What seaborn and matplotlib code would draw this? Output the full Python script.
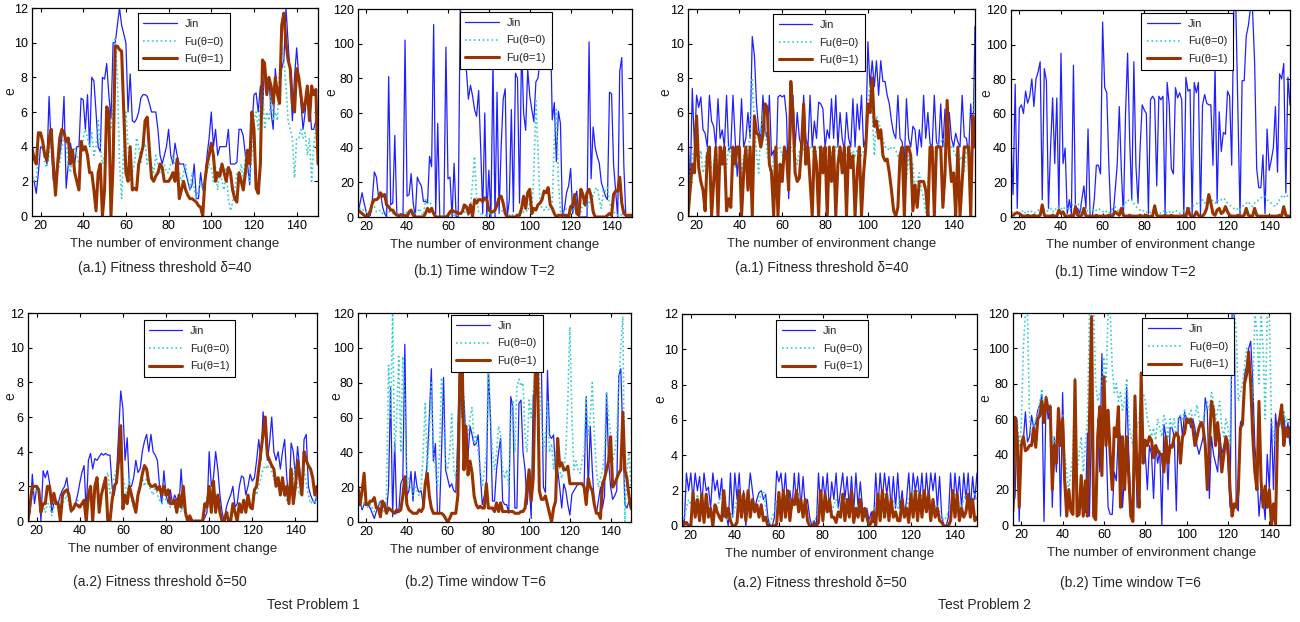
import matplotlib as mpl
import matplotlib.pyplot as plt
import seaborn as sns

sns.set_style("ticks")
mpl.rcParams['font.family'] = ['Liberation Sans', 'DejaVu Sans']
mpl.rcParams['axes.edgecolor'] = 'black'
mpl.rcParams['axes.linewidth'] = 0.9
mpl.rcParams['xtick.color'] = 'black'
mpl.rcParams['ytick.color'] = 'black'

# DATA
env_change = list(range(16, 151))

# Test problem 1, (a.1) fitness threshold 40
tp1_a1_jin = [2.0, 2.0, 1.3, 2.5, 4.0, 3.9, 3.5, 3.0, 6.9, 4.0,
              2.0, 2.1, 2.8, 3.5, 4.5, 6.9, 1.6, 3.0, 4.2, 3.5,
              3.0, 4.0, 4.0, 6.8, 6.7, 5.0, 7.0, 4.0, 8.0, 7.8,
              6.0, 4.0, 3.7, 8.0, 7.9, 8.8, 7.0, 5.6, 10.0, 10.0,
              11.0, 12.0, 11.0, 10.5, 10.0, 6.0, 8.2, 5.5, 5.4, 5.6,
              6.0, 6.8, 7.0, 7.0, 6.9, 6.5, 6.0, 6.0, 6.0, 5.0,
              3.5, 3.0, 3.5, 4.0, 5.0, 3.5, 3.0, 4.2, 3.5, 3.0,
              3.0, 3.0, 2.5, 2.0, 1.5, 1.8, 3.0, 1.0, 1.0, 2.5,
              1.5, 2.0, 3.5, 4.5, 6.0, 4.0, 5.0, 3.5, 4.0, 4.0,
              4.0, 4.0, 5.0, 3.0, 3.0, 3.0, 3.1, 5.0, 5.0, 4.6,
              3.5, 3.0, 1.8, 5.0, 7.0, 7.1, 6.0, 7.5, 5.8, 8.9,
              7.0, 8.0, 6.0, 5.0, 8.5, 7.0, 7.5, 8.5, 9.0, 12.0,
              10.0, 8.0, 5.5, 8.0, 9.7, 8.0, 6.5, 5.0, 6.0, 7.5,
              6.5, 5.0, 5.0, 5.5, 6.0]
tp1_a1_fu0 = [2.5, 2.0, 2.2, 3.5, 4.0, 4.2, 3.0, 2.8, 3.5, 4.5,
              3.0, 2.2, 2.5, 3.0, 4.0, 4.5, 4.2, 3.0, 2.5, 3.5,
              4.0, 3.5, 3.0, 3.5, 4.5, 5.0, 4.5, 4.0, 4.8, 3.5,
              4.0, 5.5, 4.0, 3.0, 3.5, 5.5, 6.0, 5.0, 6.0, 10.2,
              8.0, 3.0, 1.0, 4.0, 6.0, 4.0, 2.0, 2.5, 3.0, 4.5,
              4.0, 3.0, 4.0, 4.2, 3.0, 3.5, 3.0, 2.5, 3.5, 3.0,
              2.5, 3.0, 3.0, 2.5, 2.5, 3.0, 3.5, 3.0, 2.5, 2.5,
              2.0, 2.5, 3.0, 2.0, 1.5, 2.5, 1.5, 1.0, 1.5, 2.0,
              1.5, 2.0, 2.5, 3.0, 2.8, 2.0, 2.8, 1.5, 2.8, 2.0,
              1.5, 2.8, 1.0, 0.3, 0.8, 1.5, 2.5, 2.0, 3.0, 2.0,
              3.5, 2.5, 2.0, 3.5, 5.5, 6.0, 5.0, 6.5, 7.5, 5.0,
              6.0, 5.5, 7.0, 5.5, 6.0, 5.5, 8.5, 9.8, 9.0, 7.5,
              5.5, 5.0, 4.5, 2.2, 4.5, 4.5, 5.0, 4.5, 4.8, 3.5,
              4.5, 2.0, 4.0, 5.0, 4.5]
tp1_a1_fu1 = [3.9, 3.3, 3.0, 4.8, 4.8, 4.3, 3.5, 3.2, 4.5, 5.0,
              3.0, 1.2, 3.0, 4.5, 5.0, 4.8, 4.3, 4.5, 3.0, 3.8,
              2.5, 2.0, 1.5, 4.3, 3.8, 4.0, 3.5, 2.5, 2.5, 1.5,
              0.3, 2.5, 3.0, 0.0, 1.5, 6.3, 6.0, 0.0, 3.0, 9.8,
              9.8, 9.6, 9.5, 6.0, 2.5, 2.0, 4.0, 1.5, 1.6, 1.5,
              3.0, 3.5, 4.0, 5.5, 5.7, 3.8, 2.2, 2.0, 2.3, 2.5,
              3.0, 2.8, 2.0, 2.0, 2.0, 2.2, 2.5, 2.0, 3.3, 1.0,
              1.5, 2.0, 1.5, 1.2, 1.0, 1.0, 0.9, 0.8, 0.6, 0.5,
              0.0, 2.0, 3.0, 3.5, 4.2, 3.5, 2.0, 2.5, 2.3, 3.0,
              2.5, 2.0, 2.8, 2.5, 1.5, 1.0, 0.8, 2.5, 2.0, 1.5,
              2.5, 3.8, 3.0, 6.0, 5.0, 1.6, 1.3, 3.0, 9.0, 8.8,
              7.0, 8.0, 7.5, 6.5, 8.0, 7.0, 6.5, 11.0, 11.7, 10.0,
              9.0, 8.5, 6.5, 6.0, 8.5, 8.0, 7.0, 6.0, 6.5, 7.5,
              5.5, 7.5, 7.0, 7.3, 3.0]

# Test problem 1, (b.1) time window 2
tp1_b1_jin = [2, 8, 14, 8, 3, 0, 1, 10, 26, 23,
              12, 14, 6, 2, 0, 81, 7, 8, 47, 1,
              0, 2, 0, 102, 12, 13, 25, 8, 0, 23,
              20, 18, 9, 9, 8, 35, 29, 111, 2, 54,
              0, 0, 0, 98, 22, 23, 0, 31, 0, 0,
              121, 110, 100, 85, 68, 76, 70, 62, 58, 73,
              40, 2, 60, 0, 27, 0, 90, 0, 72, 2,
              40, 68, 74, 0, 10, 62, 3, 83, 80, 8,
              100, 60, 50, 85, 70, 62, 55, 78, 80, 90,
              95, 105, 118, 100, 118, 56, 66, 32, 61, 54,
              0, 5, 14, 18, 28, 2, 10, 15, 0, 0,
              0, 0, 0, 101, 22, 52, 40, 35, 31, 20,
              16, 12, 10, 72, 71, 30, 15, 0, 84, 92,
              30, 0, 0, 0, 0]
tp1_b1_fu0 = [2, 5, 5, 3, 3, 2, 5, 6, 6, 3,
              3, 4, 2, 3, 2, 3, 3, 2, 3, 2,
              1, 2, 1, 2, 3, 2, 3, 1, 2, 3,
              5, 2, 1, 10, 8, 9, 6, 2, 1, 1,
              0, 1, 1, 0, 1, 2, 1, 1, 2, 1,
              1, 2, 3, 2, 1, 5, 20, 35, 10, 3,
              2, 1, 1, 1, 2, 1, 3, 3, 2, 3,
              4, 3, 2, 1, 1, 2, 1, 1, 2, 3,
              2, 3, 4, 3, 8, 5, 25, 67, 40, 8,
              5, 4, 6, 4, 5, 8, 45, 62, 20, 3,
              2, 3, 5, 4, 5, 3, 6, 4, 2, 3,
              8, 7, 5, 8, 14, 12, 16, 17, 10, 5,
              16, 15, 17, 8, 5, 3, 2, 1, 2, 1,
              2, 1, 0, 1, 1]
tp1_b1_fu1 = [4, 3, 2, 1, 0, 1, 3, 8, 10, 10,
              11, 14, 12, 13, 7, 6, 4, 4, 2, 1,
              1, 1, 1, 1, 0, 3, 4, 1, 0, 0,
              0, 0, 0, 2, 5, 3, 5, 2, 0, 0,
              0, 0, 0, 0, 1, 3, 4, 3, 3, 2,
              2, 3, 7, 6, 2, 7, 0, 10, 8, 10,
              10, 9, 11, 10, 4, 3, 3, 4, 7, 11,
              12, 8, 2, 0, 0, 0, 0, 0, 1, 1,
              5, 12, 5, 14, 16, 2, 5, 4, 7, 8,
              10, 15, 14, 17, 7, 5, 2, 0, 1, 1,
              1, 1, 1, 0, 6, 7, 13, 2, 1, 16,
              13, 7, 14, 16, 12, 3, 0, 0, 0, 0,
              0, 0, 1, 2, 1, 13, 15, 15, 23, 8,
              2, 1, 1, 1, 1]

# Test problem 2, (a.1) fitness threshold 40
tp2_a1_jin = [4.8, 1.5, 7.4, 4.0, 7.0, 6.3, 6.9, 5.0, 4.8, 4.0,
              7.0, 5.5, 5.2, 4.0, 6.8, 4.5, 5.0, 4.0, 7.0, 3.8,
              4.0, 7.0, 4.5, 2.3, 4.0, 6.8, 4.0, 4.5, 6.0, 4.5,
              10.4, 9.3, 6.5, 5.0, 4.5, 7.0, 5.0, 4.5, 7.0, 3.5,
              3.8, 2.0, 6.9, 7.0, 6.9, 7.0, 5.8, 1.0, 5.0, 7.0,
              4.0, 6.0, 4.5, 4.0, 7.0, 4.5, 4.0, 7.0, 4.0, 5.5,
              4.5, 6.6, 6.5, 6.2, 4.0, 5.0, 4.5, 6.8, 4.5, 7.0,
              4.0, 6.0, 4.5, 3.8, 6.0, 4.5, 4.0, 6.8, 4.0, 6.5,
              5.0, 7.0, 4.0, 4.5, 10.1, 7.5, 9.0, 7.5, 9.0, 7.0,
              9.0, 7.8, 7.8, 7.0, 6.5, 5.5, 4.8, 4.5, 7.0, 4.5,
              4.3, 3.0, 6.8, 4.5, 4.0, 5.2, 5.0, 3.5, 5.0, 4.0,
              7.0, 4.5, 6.0, 4.2, 4.0, 7.0, 4.3, 4.0, 6.5, 4.0,
              6.2, 4.2, 6.0, 4.5, 4.0, 4.8, 4.3, 4.0, 7.0, 4.6,
              4.5, 3.5, 6.5, 4.0, 11.0]
tp2_a1_fu0 = [1.0, 2.5, 3.5, 3.8, 3.5, 3.0, 3.8, 2.5, 3.0, 4.0,
              3.5, 2.8, 3.0, 4.0, 3.2, 2.5, 3.8, 3.0, 2.8, 4.0,
              3.5, 3.0, 2.8, 3.8, 3.0, 2.5, 3.5, 3.0, 4.0, 4.5,
              8.0, 5.5, 3.5, 2.5, 5.0, 6.0, 5.0, 3.5, 3.0, 2.0,
              3.5, 3.0, 4.0, 4.0, 3.5, 3.8, 3.5, 1.5, 4.0, 3.8,
              3.5, 3.0, 3.8, 3.5, 4.0, 3.8, 3.5, 4.0, 3.8, 3.5,
              3.8, 4.0, 3.7, 3.5, 3.8, 3.2, 3.5, 3.8, 3.5, 4.0,
              3.8, 3.5, 3.6, 3.8, 3.5, 3.8, 3.5, 3.8, 3.5, 3.8,
              4.0, 3.5, 3.8, 4.0, 6.5, 7.5, 6.0, 3.5, 5.8, 5.5,
              5.0, 4.5, 4.0, 4.0, 3.8, 4.0, 4.0, 3.8, 3.5, 3.0,
              3.8, 2.5, 2.0, 3.5, 2.5, 3.0, 1.5, 2.0, 2.5, 1.5,
              1.0, 0.2, 2.0, 3.0, 3.5, 3.8, 4.0, 4.2, 4.3, 4.5,
              4.0, 4.5, 4.2, 4.0, 3.8, 3.5, 4.0, 3.2, 3.5, 2.5,
              3.8, 4.0, 3.5, 4.0, 7.8]
tp2_a1_fu1 = [0.0, 1.5, 3.0, 2.5, 5.8, 2.8, 2.0, 1.5, 0.3, 3.5,
              4.0, 0.0, 2.0, 4.0, 0.0, 4.0, 3.0, 4.0, 0.3, 1.0,
              0.5, 4.0, 3.0, 4.0, 4.0, 0.0, 2.5, 4.0, 1.5, 4.0,
              0.0, 5.8, 4.8, 4.7, 4.0, 4.7, 6.5, 6.3, 3.0, 2.5,
              0.0, 4.0, 0.0, 3.0, 2.0, 4.0, 3.5, 1.5, 7.8, 6.0,
              2.5, 2.0, 2.2, 4.0, 6.5, 3.0, 4.0, 2.0, 0.0, 4.0,
              3.0, 0.0, 4.0, 2.5, 4.0, 0.0, 4.0, 2.0, 4.0, 0.0,
              3.0, 4.0, 2.5, 4.0, 0.0, 4.0, 2.8, 3.5, 0.0, 2.5,
              4.0, 0.0, 2.5, 4.0, 6.5, 6.0, 8.0, 5.2, 5.5, 4.5,
              5.0, 3.5, 3.2, 3.3, 2.5, 1.5, 0.3, 0.0, 0.5, 3.5,
              4.0, 0.0, 4.0, 4.0, 3.5, 0.3, 1.8, 0.5, 2.0, 2.0,
              2.0, 1.5, 0.0, 4.0, 4.0, 0.0, 4.0, 4.0, 4.0, 0.5,
              2.5, 6.7, 3.5, 2.0, 2.5, 0.0, 4.0, 0.0, 2.0, 4.0,
              4.0, 4.0, 0.0, 5.8, 4.0]

# Test problem 2, (b.1) time window 2
tp2_b1_jin = [45, 13, 77, 5, 63, 65, 60, 73, 66, 70,
              80, 64, 80, 84, 90, 10, 86, 79, 5, 40,
              69, 31, 69, 5, 95, 31, 40, 2, 10, 2,
              88, 2, 5, 2, 10, 18, 5, 51, 0, 0,
              10, 30, 30, 25, 113, 75, 72, 30, 0, 0,
              15, 30, 64, 27, 0, 60, 95, 45, 10, 90,
              30, 8, 40, 65, 62, 60, 2, 68, 70, 68,
              18, 70, 68, 70, 2, 78, 65, 28, 25, 75,
              69, 72, 68, 0, 81, 73, 74, 0, 78, 72,
              78, 1, 65, 71, 66, 65, 65, 30, 87, 8,
              61, 38, 49, 48, 73, 70, 30, 121, 121, 60,
              0, 79, 79, 105, 111, 121, 120, 90, 28, 17,
              17, 36, 2, 51, 27, 33, 40, 64, 26, 83,
              80, 89, 14, 81, 65]
tp2_b1_fu0 = [3, 3, 2, 3, 2, 3, 4, 2, 3, 4,
              3, 2, 3, 4, 3, 5, 4, 3, 4, 5,
              3, 5, 4, 6, 5, 4, 6, 5, 4, 6,
              8, 7, 8, 6, 5, 4, 5, 3, 4, 5,
              3, 4, 5, 4, 3, 4, 3, 2, 4, 5,
              6, 4, 3, 5, 6, 8, 10, 9, 10, 8,
              6, 5, 4, 3, 4, 3, 2, 3, 4, 3,
              2, 3, 2, 3, 4, 2, 3, 2, 3, 4,
              3, 2, 3, 4, 5, 6, 5, 6, 7, 8,
              7, 9, 10, 8, 10, 12, 11, 9, 8, 10,
              9, 10, 11, 10, 8, 7, 6, 5, 4, 5,
              4, 6, 7, 8, 9, 7, 6, 8, 9, 10,
              11, 12, 12, 10, 9, 8, 7, 6, 8, 10,
              12, 11, 13, 12, 11]
tp2_b1_fu1 = [1, 1, 2, 2.5, 2, 1, 0.5, 0.5, 1, 0.5,
              0.5, 1, 0.5, 0.5, 1, 7, 1, 0.5, 0.5, 0.5,
              1, 0.5, 0.5, 4, 2, 3, 0.5, 0.5, 0.5, 1,
              0.5, 6, 1, 0.5, 1, 5, 0.5, 0.5, 0.5, 0.5,
              0.5, 1, 0.5, 0.5, 0.5, 0.5, 0.5, 1, 0.5, 1,
              3, 2, 1, 5, 1, 0.5, 0.5, 1, 0.5, 0.5,
              0.5, 0.5, 1, 0.5, 0.5, 1, 0.5, 0.5, 0.5, 6.5,
              1, 0.5, 0.5, 0.5, 1, 0.5, 0.5, 1, 0.5, 0.5,
              0.5, 0.5, 0.5, 1, 0.5, 5, 1, 0.5, 0.5, 3,
              1, 0.5, 0.5, 2, 5, 13, 8, 2, 1, 4,
              5, 2, 3, 6, 3, 1, 0.5, 0.5, 0.5, 1,
              0.5, 0.5, 1, 5, 1, 0.5, 0.5, 5, 1, 0.5,
              0.5, 0.5, 0.5, 0.5, 0.5, 0.5, 0.5, 0.5, 0.5, 1,
              0.5, 6, 1, 0.5, 0.5]

# Test problem 1, (a.2) fitness threshold 50
tp1_a2_jin = [0.3, 0.5, 2.7, 1.0, 1.9, 1.8, 0.0, 2.9, 2.5, 2.9,
              2.2, 0.5, 1.0, 1.2, 1.0, 1.5, 1.8, 2.0, 2.5, 1.5,
              0.5, 0.8, 1.0, 1.5, 2.2, 2.8, 3.2, 0.5, 3.5, 3.9,
              3.0, 3.6, 3.5, 3.7, 3.9, 3.8, 3.9, 3.8, 3.8, 2.0,
              1.5, 2.5, 5.0, 7.5, 6.5, 3.5, 4.8, 2.0, 2.0, 2.5,
              3.5, 2.8, 3.0, 4.0, 4.6, 5.0, 4.0, 5.0, 4.0, 3.8,
              3.5, 2.0, 1.0, 2.9, 1.5, 1.0, 1.8, 1.0, 1.5, 1.2,
              0.8, 3.0, 1.0, 0.5, 0.0, 0.0, 0.0, 0.0, 0.0, 0.0,
              0.0, 0.0, 0.2, 0.5, 4.0, 2.0, 2.5, 4.0, 3.0, 1.5,
              0.5, 0.0, 0.8, 1.2, 1.5, 2.0, 0.8, 1.0, 2.0, 2.6,
              2.5, 1.5, 2.0, 2.7, 2.3, 2.5, 3.5, 4.7, 3.5, 6.3,
              5.0, 3.5, 4.5, 6.0, 4.0, 3.5, 4.0, 3.0, 4.0, 4.7,
              2.5, 1.0, 4.5, 4.0, 2.5, 4.3, 3.0, 1.5, 4.7, 5.0,
              2.0, 1.5, 1.2, 1.0, 1.5]
tp1_a2_fu0 = [0.5, 1.0, 1.5, 2.0, 1.8, 1.5, 0.8, 1.0, 0.5, 1.0,
              1.0, 0.3, 0.8, 1.2, 1.0, 0.8, 1.0, 1.2, 1.5, 1.0,
              0.5, 0.8, 1.0, 1.2, 0.8, 1.0, 1.2, 0.5, 1.0, 1.8,
              0.5, 1.5, 2.0, 1.2, 1.5, 2.0, 2.5, 2.8, 1.5, 2.0,
              2.5, 3.0, 3.5, 3.3, 2.5, 2.0, 1.5, 2.5, 1.2, 0.8,
              1.0, 1.8, 2.0, 2.5, 2.0, 2.5, 2.0, 1.8, 1.5, 2.0,
              1.5, 1.2, 1.0, 1.5, 1.2, 1.0, 0.8, 1.0, 0.8, 0.5,
              1.0, 0.5, 1.0, 0.3, 0.0, 0.2, 0.0, 0.0, 0.0, 0.0,
              0.0, 0.0, 0.5, 1.5, 1.8, 1.0, 1.5, 0.8, 1.0, 0.5,
              0.2, 0.0, 0.3, 0.5, 0.3, 0.8, 0.5, 0.2, 0.8, 0.5,
              1.0, 0.8, 1.2, 1.0, 1.2, 1.8, 1.5, 2.0, 2.5, 3.0,
              3.2, 3.0, 3.5, 2.8, 2.5, 2.0, 2.5, 1.8, 2.2, 1.5,
              1.2, 2.0, 1.5, 2.5, 3.2, 2.0, 1.5, 2.0, 3.0, 2.2,
              1.5, 1.0, 1.2, 1.0, 1.5]
tp1_a2_fu1 = [0.0, 1.0, 2.0, 2.0, 2.0, 1.8, 0.5, 1.0, 1.0, 2.0,
              2.0, 1.0, 1.6, 1.0, 1.0, 0.0, 1.5, 1.7, 1.8, 1.5,
              0.6, 0.7, 1.0, 0.9, 0.8, 1.0, 1.2, 0.0, 1.5, 2.0,
              0.0, 2.0, 2.5, 0.5, 1.5, 2.0, 2.5, 0.0, 0.0, 1.2,
              2.0, 2.2, 3.5, 5.5, 0.7, 1.5, 1.0, 2.0, 1.5, 1.0,
              0.5, 1.5, 2.0, 2.7, 3.2, 3.0, 2.2, 2.0, 2.0, 2.1,
              1.8, 2.0, 1.5, 2.0, 1.5, 1.8, 1.0, 1.0, 1.2, 0.5,
              1.5, 0.8, 2.0, 0.5, 0.0, 0.3, 0.0, 0.0, 0.0, 0.0,
              0.0, 0.0, 1.0, 0.8, 2.0, 0.5, 2.3, 0.5, 1.5, 0.5,
              0.0, 0.0, 0.5, 0.0, 0.0, 1.0, 0.5, 0.0, 1.0, 0.5,
              1.2, 0.5, 1.5, 0.8, 0.7, 1.8, 2.0, 3.0, 4.0, 5.0,
              6.0, 3.8, 3.5, 3.2, 3.0, 2.0, 2.5, 1.5, 2.5, 1.5,
              2.0, 1.0, 3.0, 1.0, 2.0, 3.5, 2.5, 1.5, 4.0, 3.5,
              3.2, 3.0, 2.5, 1.5, 2.0]

# Test problem 1, (b.2) time window 6
tp1_b2_jin = [8, 12, 7, 10, 11, 10, 8, 5, 2, 6,
              9, 12, 10, 8, 5, 20, 77, 3, 46, 5,
              6, 22, 25, 102, 15, 18, 29, 12, 29, 20,
              17, 18, 10, 22, 35, 60, 88, 35, 45, 5,
              5, 40, 83, 30, 25, 20, 22, 18, 17, 50,
              95, 60, 70, 48, 38, 55, 50, 44, 45, 50,
              28, 10, 15, 20, 88, 60, 12, 12, 30, 40,
              48, 12, 10, 10, 5, 72, 66, 8, 8, 68,
              70, 40, 30, 10, 25, 2, 72, 75, 90, 102,
              90, 20, 17, 87, 50, 48, 50, 28, 30, 20,
              8, 22, 18, 10, 4, 16, 18, 20, 22, 22,
              22, 21, 72, 18, 55, 30, 10, 5, 12, 20,
              8, 15, 74, 35, 20, 13, 15, 18, 84, 88,
              50, 10, 8, 12, 7]
tp1_b2_fu0 = [15, 10, 8, 12, 10, 8, 10, 8, 6, 8,
              10, 12, 8, 5, 15, 90, 60, 120, 40, 60,
              95, 40, 95, 70, 20, 25, 20, 15, 20, 18,
              15, 20, 40, 68, 30, 50, 80, 40, 30, 20,
              40, 83, 60, 35, 30, 40, 62, 30, 25, 40,
              80, 60, 72, 45, 50, 60, 66, 45, 50, 40,
              30, 20, 30, 40, 90, 60, 40, 30, 40, 55,
              50, 30, 25, 30, 20, 60, 70, 40, 78, 82,
              78, 80, 50, 40, 70, 60, 75, 85, 100, 80,
              60, 40, 50, 70, 40, 45, 30, 40, 35, 30,
              25, 30, 40, 70, 112, 60, 30, 35, 30, 28,
              35, 40, 72, 50, 60, 80, 50, 30, 20, 25,
              30, 40, 75, 60, 50, 35, 40, 50, 80, 100,
              118, 0, 30, 40, 20]
tp1_b2_fu1 = [20, 10, 18, 28, 10, 10, 12, 12, 14, 8,
              8, 3, 12, 10, 5, 8, 7, 6, 5, 7,
              6, 7, 15, 26, 10, 7, 6, 5, 5, 5,
              7, 6, 8, 22, 28, 15, 8, 5, 5, 5,
              5, 5, 4, 2, 0, 2, 5, 5, 5, 15,
              85, 105, 30, 55, 27, 35, 28, 15, 10, 8,
              9, 8, 8, 22, 8, 8, 8, 6, 11, 6,
              11, 6, 6, 6, 6, 6, 6, 5, 5, 5,
              6, 6, 8, 20, 30, 12, 25, 85, 100, 18,
              13, 13, 15, 10, 5, 0, 8, 12, 48, 32,
              34, 30, 30, 32, 22, 22, 22, 22, 22, 22,
              22, 20, 10, 25, 20, 18, 10, 5, 5, 2,
              22, 25, 30, 35, 49, 20, 22, 25, 28, 30,
              63, 30, 25, 15, 8]

# Test problem 2, (a.2) fitness threshold 50
tp2_a2_jin = [0.5, 0.0, 3.0, 2.0, 3.0, 1.5, 3.0, 2.0, 2.8, 1.2,
              3.0, 2.0, 2.2, 1.0, 3.0, 2.0, 2.6, 1.5, 2.7, 0.5,
              0.8, 0.0, 3.0, 0.5, 3.0, 1.5, 3.0, 0.8, 2.0, 0.0,
              1.5, 3.0, 2.0, 1.0, 1.5, 1.9, 2.0, 1.5, 1.8, 0.5,
              0.0, 0.0, 0.5, 3.1, 2.5, 3.0, 1.5, 3.0, 1.0, 2.0,
              1.0, 3.0, 1.2, 3.0, 1.0, 2.8, 1.0, 1.5, 0.5, 0.0,
              0.3, 0.0, 3.0, 1.0, 2.8, 1.5, 3.0, 0.8, 2.5, 1.5,
              3.0, 1.0, 2.0, 3.0, 1.5, 2.8, 1.0, 2.8, 0.8, 3.0,
              1.0, 2.5, 1.0, 0.5, 1.0, 0.3, 0.8, 0.2, 3.0, 1.0,
              3.0, 1.5, 3.0, 1.8, 2.8, 1.0, 2.8, 1.0, 3.0, 1.0,
              2.0, 0.5, 1.5, 3.0, 1.0, 3.0, 2.0, 2.8, 1.5, 3.0,
              1.0, 3.0, 1.5, 3.0, 2.0, 3.0, 1.0, 2.8, 0.5, 0.0,
              0.0, 0.5, 3.0, 1.0, 3.0, 1.5, 2.8, 1.0, 3.0, 1.5,
              3.0, 1.0, 2.8, 1.5, 3.0]
tp2_a2_fu0 = [0.2, 0.5, 1.0, 1.5, 1.2, 1.8, 1.0, 1.8, 1.2, 1.6,
              0.8, 1.5, 1.0, 0.8, 0.5, 1.2, 1.0, 1.5, 1.8, 1.0,
              0.5, 0.3, 0.8, 0.5, 1.0, 1.5, 1.2, 1.8, 1.0, 0.5,
              1.5, 1.0, 1.5, 1.2, 1.0, 1.5, 1.8, 2.0, 1.0, 0.3,
              0.2, 0.5, 0.8, 1.5, 1.2, 1.5, 1.0, 1.8, 1.2, 1.5,
              1.0, 1.5, 1.2, 1.8, 1.0, 1.2, 0.8, 0.5, 0.3, 0.2,
              0.3, 0.5, 1.2, 1.5, 1.0, 1.5, 1.2, 1.0, 0.8, 1.2,
              1.5, 1.0, 1.2, 1.5, 1.0, 1.2, 0.8, 1.5, 1.0, 0.8,
              1.2, 1.0, 0.5, 0.8, 0.5, 0.3, 0.5, 0.8, 1.2, 1.5,
              1.8, 1.5, 1.8, 1.5, 1.2, 1.0, 1.5, 1.2, 1.0, 1.5,
              1.2, 0.8, 1.0, 1.5, 1.8, 2.0, 1.8, 2.0, 1.5, 1.8,
              2.0, 1.5, 1.8, 1.2, 1.5, 1.0, 1.2, 0.8, 0.5, 0.3,
              0.5, 0.8, 1.2, 1.5, 1.8, 1.5, 1.2, 1.0, 1.5, 1.8,
              1.5, 1.2, 1.5, 1.8, 1.5]
tp2_a2_fu1 = [0.0, 0.1, 0.2, 0.0, 0.0, 1.9, 0.5, 1.5, 0.3, 1.8,
              0.2, 1.8, 0.5, 1.0, 0.0, 1.2, 0.8, 0.5, 0.3, 2.0,
              0.5, 1.0, 0.3, 0.0, 0.0, 0.2, 2.0, 0.5, 1.8, 0.3,
              2.0, 0.5, 1.5, 0.8, 1.2, 0.5, 1.2, 0.3, 0.5, 0.0,
              0.0, 0.0, 0.0, 0.1, 1.9, 0.3, 2.0, 0.5, 2.0, 0.3,
              1.5, 1.2, 2.0, 0.8, 1.5, 0.5, 1.5, 0.3, 0.0, 0.0,
              0.1, 0.0, 0.2, 2.0, 0.3, 1.8, 0.8, 1.5, 0.5, 0.5,
              0.2, 0.8, 0.5, 1.8, 0.3, 1.5, 0.5, 2.0, 0.2, 1.0,
              0.5, 1.5, 0.3, 1.0, 0.5, 0.0, 0.2, 0.8, 0.0, 1.8,
              0.3, 2.0, 0.5, 1.8, 0.3, 1.5, 0.5, 0.8, 0.3, 0.3,
              1.5, 0.5, 1.0, 0.2, 1.8, 0.5, 2.0, 0.3, 1.8, 0.5,
              2.0, 0.8, 1.8, 0.3, 1.5, 0.5, 1.0, 0.3, 0.2, 0.0,
              0.0, 0.0, 0.3, 2.0, 0.5, 1.8, 0.3, 1.0, 0.5, 0.8,
              1.8, 0.5, 1.5, 0.3, 0.5]

# Test problem 2, (b.2) time window 6
tp2_b2_jin = [10, 16, 60, 2, 45, 48, 64, 47, 50, 62,
              55, 58, 65, 68, 74, 2, 73, 60, 68, 10,
              50, 30, 65, 5, 75, 30, 15, 10, 8, 6,
              80, 5, 8, 10, 10, 7, 52, 5, 60, 15,
              10, 60, 30, 97, 60, 50, 10, 6, 6, 30,
              25, 55, 50, 10, 30, 78, 40, 12, 15, 65,
              10, 40, 45, 50, 40, 20, 45, 40, 15, 45,
              35, 42, 0, 57, 50, 20, 55, 55, 50, 8,
              60, 62, 50, 64, 60, 60, 55, 60, 55, 45,
              40, 45, 50, 72, 65, 15, 50, 40, 35, 30,
              52, 40, 45, 50, 35, 10, 120, 120, 10, 8,
              58, 60, 85, 90, 100, 104, 80, 45, 30, 5,
              20, 15, 3, 40, 20, 60, 20, 63, 50, 62,
              55, 62, 50, 58, 45]
tp2_b2_fu0 = [40, 55, 60, 45, 55, 100, 120, 120, 60, 50,
              55, 60, 62, 70, 77, 60, 70, 65, 68, 40,
              50, 45, 60, 55, 62, 40, 30, 20, 30, 40,
              83, 30, 40, 50, 30, 45, 60, 120, 120, 120,
              80, 70, 75, 80, 95, 80, 120, 120, 90, 75,
              80, 70, 75, 65, 70, 83, 60, 50, 45, 70,
              55, 60, 75, 75, 70, 60, 55, 50, 55, 48,
              60, 55, 50, 62, 58, 50, 60, 55, 60, 50,
              58, 62, 60, 65, 58, 62, 65, 60, 62, 68,
              60, 55, 60, 65, 70, 65, 75, 70, 60, 65,
              70, 55, 50, 60, 55, 45, 120, 120, 110, 70,
              75, 80, 90, 100, 95, 85, 70, 120, 110, 80,
              120, 100, 60, 120, 118, 60, 50, 45, 55, 60,
              55, 65, 58, 60, 55]
tp2_b2_fu1 = [8, 61, 50, 10, 45, 50, 42, 43, 45, 45,
              55, 44, 60, 62, 70, 58, 72, 65, 67, 20,
              45, 35, 66, 45, 60, 25, 5, 20, 8, 6,
              82, 5, 6, 28, 5, 25, 5, 60, 118, 5,
              3, 50, 67, 28, 84, 45, 65, 40, 20, 55,
              50, 67, 10, 50, 20, 50, 28, 5, 2, 73,
              28, 10, 86, 35, 48, 45, 50, 48, 38, 45,
              42, 40, 40, 30, 50, 35, 45, 44, 50, 52,
              50, 35, 50, 52, 60, 58, 60, 55, 45, 50,
              55, 58, 55, 45, 20, 45, 70, 65, 45, 58,
              45, 30, 40, 50, 45, 20, 5, 12, 10, 20,
              55, 57, 80, 85, 98, 80, 50, 30, 20, 70,
              25, 10, 22, 10, 20, 0, 12, 0, 55, 60,
              68, 45, 55, 50, 55]

JIN_C = "#1f1fff"
FU0_C = "#33cccc"
FU1_C = "#993300"

W, H = 1300, 622


def px_box(left, top, right, bottom):
    return [left / W, 1 - bottom / H, (right - left) / W, (bottom - top) / H]


def draw_panel(ax, jin, fu0, fu1, ymax, leg_x, leg_top, e_x):
    sns.lineplot(x=env_change, y=jin, ax=ax, color=JIN_C, linewidth=0.9, label="Jin")
    sns.lineplot(x=env_change, y=fu0, ax=ax, color=FU0_C, linewidth=1.2,
                 linestyle=":", label="Fu(θ=0)")
    sns.lineplot(x=env_change, y=fu1, ax=ax, color=FU1_C, linewidth=2.2, label="Fu(θ=1)")
    ax.set_xlim(16, 150)
    ax.set_ylim(0, ymax)
    ax.set_xticks(range(20, 141, 20))
    ax.set_yticks(range(0, ymax + 1, ymax // 6))
    ax.tick_params(direction="in", top=True, right=True, length=3, labelsize=9, pad=3)
    ax.set_xlabel("The number of environment change", fontsize=9.5, labelpad=4)
    ax.set_ylabel("e", fontsize=10)
    ax.yaxis.set_label_coords(e_x, 0.6)
    leg = ax.legend(loc="upper left", bbox_to_anchor=(leg_x, leg_top), fontsize=8,
                    frameon=True, fancybox=False, framealpha=1, edgecolor="black",
                    handlelength=3.0, labelspacing=0.7, borderpad=0.5,
                    handletextpad=0.7, borderaxespad=0)
    leg.get_frame().set_linewidth(0.8)
    for sp in ax.spines.values():
        sp.set_visible(True)


fig = plt.figure(figsize=(13, 6.22), dpi=100)

# (left, top, right, bottom) in pixels, data, y max, legend anchor, x pixel of the "e" label
panels = [
    ((32, 8, 318, 216), tp1_a1_jin, tp1_a1_fu0, tp1_a1_fu1, 12, 0.37, 0.975, 17),
    ((358, 9, 632, 217), tp1_b1_jin, tp1_b1_fu0, tp1_b1_fu1, 120, 0.372, 0.985, 338),
    ((688, 9, 975, 216), tp2_a1_jin, tp2_a1_fu0, tp2_a1_fu1, 12, 0.296, 0.975, 672),
    ((1011, 10, 1290, 217), tp2_b1_jin, tp2_b1_fu0, tp2_b1_fu1, 120, 0.466, 0.985, 993),
    ((28, 313, 317, 521), tp1_a2_jin, tp1_a2_fu0, tp1_a2_fu1, 12, 0.40, 0.965, 17),
    ((358, 313, 631, 522), tp1_b2_jin, tp1_b2_fu0, tp1_b2_fu1, 120, 0.34, 0.99, 343),
    ((682, 314, 977, 526), tp2_a2_jin, tp2_a2_fu0, tp2_a2_fu1, 12, 0.32, 0.97, 667),
    ((1013, 313, 1290, 525), tp2_b2_jin, tp2_b2_fu0, tp2_b2_fu1, 120, 0.466, 0.975, 992),
]

for (l, t, r, b), jin, fu0, fu1, ymax, lx, ly, ex in panels:
    ax = fig.add_axes(px_box(l, t, r, b))
    draw_panel(ax, jin, fu0, fu1, ymax, lx, ly, (ex - l) / (r - l))

captions = [
    ("(a.1) Fitness threshold δ=40", 165, 268),
    ("(b.1) Time window T=2", 484, 271),
    ("(a.1) Fitness threshold δ=40", 822, 268),
    ("(b.1) Time window T=2", 1125, 272),
    ("(a.2) Fitness threshold δ=50", 160, 582),
    ("(b.2) Time window T=6", 475, 582),
    ("(a.2) Fitness threshold δ=50", 820, 583),
    ("(b.2) Time window T=6", 1130, 583),
]
for txt, cx, cy in captions:
    fig.text(cx / W, 1 - cy / H, txt, ha="center", va="center", fontsize=10)

fig.text(313 / W, 1 - 605 / H, "Test Problem 1", ha="center", va="center", fontsize=10)
fig.text(985 / W, 1 - 605 / H, "Test Problem 2", ha="center", va="center", fontsize=10)

plt.savefig("out.png", dpi=100)
plt.close()
